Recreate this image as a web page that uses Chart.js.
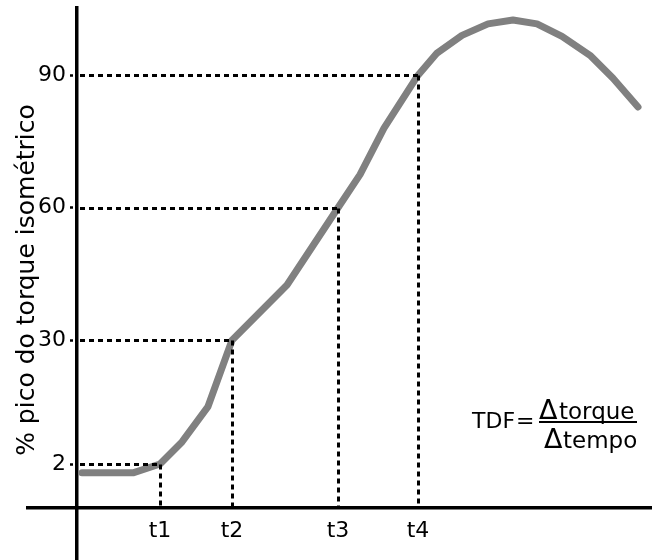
<!DOCTYPE html>
<html>
<head>
<meta charset="utf-8">
<script src="https://cdn.jsdelivr.net/npm/chart.js@4/dist/chart.umd.min.js"></script>
<style>
  html, body { margin: 0; padding: 0; background: #fff; }
  #wrap { width: 652px; height: 560px; position: relative; }
</style>
</head>
<body>
<div id="wrap"><canvas id="myChart"></canvas></div>
<script>
// torque curve: time (arbitrary units) vs % of peak isometric torque
var timeValues = [1, 11.2, 16.6, 21, 26.2, 31, 42, 52.2, 56.6, 61.4, 68.2, 72, 77, 82.2, 87.2, 92, 97, 102.6, 107.2, 112.2];
var torqueValues = [0, 0, 2, 7, 15, 30, 42.5, 60, 67.5, 78, 90, 95, 99, 101.6, 102.5, 101.6, 98.8, 94.5, 89.3, 82.8];

// marked instants t1..t4 and the torque level reached at each
var markLabels = ['t1', 't2', 't3', 't4'];
var markTimes = [16.6, 31, 52.2, 68.2];
var markTorque = [2, 30, 60, 90];

// y tick labels
var yTicks = [2, 30, 60, 90];

var axisY = -8; // the time axis sits a little below zero torque
var font = '"DejaVu Sans", Verdana, sans-serif';
var ink = '#000';

var guides = {
  id: 'guides',
  afterDatasetsDraw: function(chart) {
    var ctx = chart.ctx, xs = chart.scales.x, ys = chart.scales.y;
    var x0 = xs.getPixelForValue(0), y0 = ys.getPixelForValue(axisY);
    ctx.save();
    ctx.strokeStyle = ink;
    ctx.lineWidth = 3;
    ctx.setLineDash([5, 4]);
    for (var i = 0; i < markTimes.length; i++) {
      var px = Math.round(xs.getPixelForValue(markTimes[i])) + 0.5;
      var py = Math.round(ys.getPixelForValue(markTorque[i])) + 0.5;
      ctx.beginPath();
      ctx.moveTo(x0 + 3, py);
      ctx.lineTo(px, py);
      ctx.stroke();
      ctx.beginPath();
      ctx.moveTo(px, py);
      ctx.lineTo(px, y0);
      ctx.stroke();
    }
    ctx.restore();
  },
  afterDraw: function(chart) {
    var ctx = chart.ctx;
    ctx.save();
    ctx.fillStyle = ink;
    // y axis title
    ctx.save();
    ctx.translate(27, 280);
    ctx.rotate(-Math.PI / 2);
    ctx.font = '25px ' + font;
    ctx.textAlign = 'center';
    ctx.textBaseline = 'middle';
    ctx.fillText('% pico do torque isométrico', 0, 0);
    ctx.restore();

    // formula TDF = Δtorque / Δtempo
    ctx.textBaseline = 'alphabetic';
    ctx.textAlign = 'left';
    ctx.font = '22px ' + font;
    ctx.fillText('TDF', 472, 428);
    ctx.fillText('=', 516, 428);
    ctx.font = '27px ' + font;
    ctx.fillText('\u0394', 539, 419);
    ctx.fillText('\u0394', 544, 448);
    ctx.font = '23px ' + font;
    ctx.fillText('torque', 559, 419);
    ctx.fillText('tempo', 563, 448);
    ctx.fillRect(539, 421, 98, 2);
    ctx.restore();
  }
};

var ctx = document.getElementById('myChart').getContext('2d');
var chart = new Chart(ctx, {
  type: 'line',
  data: {
    datasets: [{
      data: timeValues.map(function(t, i) { return {x: t, y: torqueValues[i]}; }),
      borderColor: '#808080',
      borderWidth: 7,
      borderCapStyle: 'round',
      borderJoinStyle: 'round',
      pointRadius: 0,
      tension: 0,
      fill: false
    }]
  },
  options: {
    responsive: true,
    maintainAspectRatio: false,
    animation: false,
    layout: { autoPadding: false, padding: { left: 28, top: 8, right: 0, bottom: 0 } },
    plugins: { legend: { display: false }, tooltip: { enabled: false } },
    scales: {
      x: {
        type: 'linear',
        min: -9.8,
        max: 115,
        position: { y: axisY },
        grid: { display: false, drawTicks: false },
        border: { color: '#000', width: 3.5 },
        afterBuildTicks: function(scale) {
          scale.ticks = markTimes.map(function(v) { return {value: v}; });
        },
        ticks: {
          padding: 10,
          maxRotation: 0,
          autoSkip: false,
          color: ink,
          font: { family: font, size: 22 },
          callback: function(v, i) { return markLabels[i]; }
        }
      },
      y: {
        type: 'linear',
        min: -19.7,
        max: 105.2,
        position: { x: 0 },
        grid: {
          display: true,
          drawOnChartArea: false,
          drawTicks: true,
          tickLength: 7,
          tickWidth: 2.5,
          tickColor: ink,
          tickBorderDash: [0, 2, 3, 20]
        },
        border: { color: '#000', width: 3.5 },
        afterBuildTicks: function(scale) {
          scale.ticks = yTicks.map(function(v) { return {value: v}; });
        },
        ticks: {
          padding: 0,
          color: ink,
          // tiny line height so the labels do not shrink the axis range
          font: { family: font, size: 22, lineHeight: 0.01 },
          callback: function(v) { return v + '\u2002'; }
        }
      }
    }
  },
  plugins: [guides]
});
</script>
</body>
</html>
